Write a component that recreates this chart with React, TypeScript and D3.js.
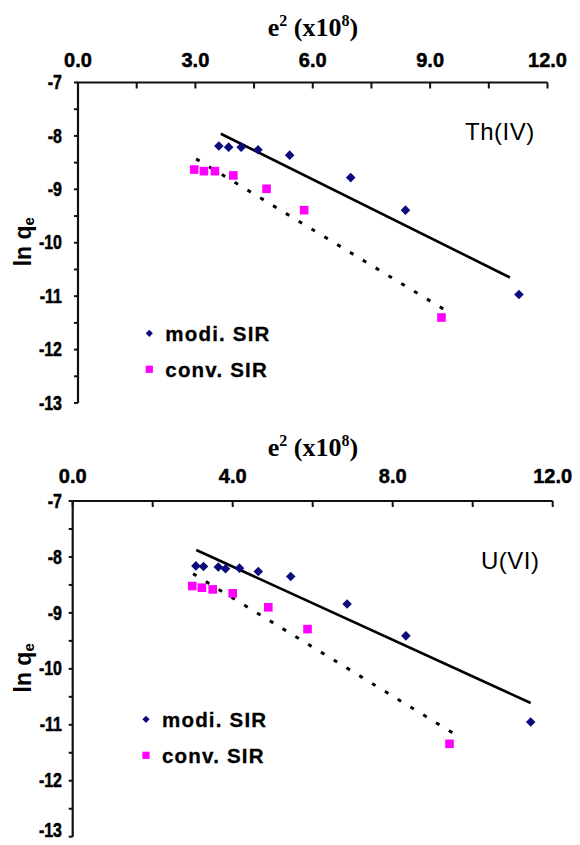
import React from 'react';
import * as d3 from 'd3';

// ---- data ----
// Th(IV) panel
const thModiX = [3.6, 3.85, 4.17, 4.6, 5.41, 6.97, 8.37, 11.27];
const thModiY = [-8.19, -8.21, -8.21, -8.26, -8.36, -8.78, -9.39, -10.97];
const thConvX = [2.97, 3.22, 3.5, 3.97, 4.82, 5.78, 9.29];
const thConvY = [-8.63, -8.66, -8.66, -8.74, -8.99, -9.39, -11.4];
const thModiFitX = [3.65, 11.04];
const thModiFitY = [-7.96, -10.65];
const thConvFitX = [3.02, 9.45];
const thConvFitY = [-8.43, -11.29];
const thXTicks = [0, 1.5, 3, 4.5, 6, 7.5, 9, 10.5, 12];
const thXLabels = [0, 3, 6, 9, 12];

// U(VI) panel
const uModiX = [3.08, 3.27, 3.64, 3.82, 4.17, 4.64, 5.45, 6.86, 8.33, 11.45];
const uModiY = [-8.16, -8.17, -8.18, -8.21, -8.2, -8.26, -8.35, -8.84, -9.41, -10.95];
const uConvX = [2.99, 3.23, 3.5, 4.0, 4.89, 5.87, 9.42];
const uConvY = [-8.52, -8.55, -8.58, -8.65, -8.9, -9.29, -11.34];
const uModiFitX = [3.09, 11.45];
const uModiFitY = [-7.875, -10.61];
const uConvFitX = [3.01, 9.65];
const uConvFitY = [-8.3, -11.21];
const uXTicks = [0, 2, 4, 6, 8, 10, 12];
const uXLabels = [0, 4, 8, 12];

const yTicks = [-7, -7.5, -8, -8.5, -9, -9.5, -10, -10.5, -11, -11.5, -12, -12.5, -13];
const yLabels = [-7, -8, -9, -10, -11, -12, -13];
const legendNames = ['modi. SIR', 'conv. SIR'];

const BLUE = '#0b0b7d';
const PINK = '#ff00ff';
const SANS = "'Liberation Sans', Arial, sans-serif";
const SERIF = "'Liberation Serif', 'Times New Roman', serif";

const zip = (xs: number[], ys: number[]) => xs.map((x, i) => [x, ys[i]] as [number, number]);

type PanelProps = {
  xRange: [number, number];
  yRange: [number, number];
  xTicks: number[];
  xLabels: number[];
  modi: [number, number][];
  conv: [number, number][];
  modiFit: [number, number][];
  convFit: [number, number][];
  species: string;
  speciesPos: [number, number];
  titleY: number;
  tickLabelY: number;
  yLabelRight: number;
  legendPos: [number, number];
};

const diamond = d3.symbol().type(d3.symbolSquare).size(46)();
const square = d3.symbol().type(d3.symbolSquare).size(74)();
const legDiamond = d3.symbol().type(d3.symbolSquare).size(26)();
const legSquare = d3.symbol().type(d3.symbolSquare).size(52)();

const Panel = (p: PanelProps) => {
  const x = d3.scaleLinear().domain([0, 12]).range(p.xRange);
  const y = d3.scaleLinear().domain([-7, -13]).range(p.yRange);
  const line = d3.line<[number, number]>().x(d => x(d[0])).y(d => y(d[1]));
  const [x0, x1] = p.xRange;
  const [y0, y1] = p.yRange;

  return (
    <g>
      {/* top title */}
      <text x={313} y={p.titleY} textAnchor="middle" fontFamily={SERIF} fontWeight="bold" fontSize={26}>
        e<tspan fontSize={16} dy={-10}>2</tspan>
        <tspan dy={10}> (x10</tspan>
        <tspan fontSize={16} dy={-10}>8</tspan>
        <tspan dy={10}>)</tspan>
      </text>

      {/* axes */}
      <path d={`M${x0},${y1}V${y0}H${x1}`} fill="none" stroke="#111" strokeWidth={2.2} />
      {p.xTicks.map(t => (
        <line key={t} x1={x(t)} x2={x(t)} y1={y0} y2={y0 + 6} stroke="#111" strokeWidth={2} />
      ))}
      {p.xLabels.map(t => (
        <text key={t} x={x(t)} y={p.tickLabelY} textAnchor="middle" fontFamily={SANS} fontWeight="bold"
          fontSize={20} stroke="#000" strokeWidth={0.5}>
          {t.toFixed(1)}
        </text>
      ))}
      {yTicks.map(t => (
        <line key={t} x1={x0 - 4} x2={x0} y1={y(t)} y2={y(t)} stroke="#111" strokeWidth={2} />
      ))}
      {yLabels.map(t => (
        <text key={t} transform={`translate(${p.yLabelRight},${Math.min(y(t), 830)}) scale(0.82,1)`} dy="0.34em"
          textAnchor="end" fontFamily={SANS} fontWeight="bold" fontSize={19.5} stroke="#000" strokeWidth={0.5}>
          {t}
        </text>
      ))}

      <text
        transform={`translate(31,${(y0 + y1) / 2 - 1}) rotate(-90)`}
        textAnchor="middle"
        fontFamily={SANS}
        fontWeight="bold"
        fontSize={23}
      >
        ln q<tspan fontSize={15} dy={3}>e</tspan>
      </text>

      {/* fitted lines */}
      <path d={line(p.modiFit) || ''} fill="none" stroke="#000" strokeWidth={2.6} />
      <path d={line(p.convFit) || ''} fill="none" stroke="#000" strokeWidth={3} strokeDasharray="4,11" />

      {/* points */}
      {p.modi.map((d, i) => (
        <path key={'m' + i} d={diamond || ''} transform={`translate(${x(d[0])},${y(d[1])}) rotate(45)`} fill={BLUE} />
      ))}
      {p.conv.map((d, i) => (
        <path key={'c' + i} d={square || ''} transform={`translate(${x(d[0])},${y(d[1])})`} fill={PINK} />
      ))}

      {/* species label */}
      <text x={p.speciesPos[0]} y={p.speciesPos[1]} fontFamily={SANS} fontSize={24} letterSpacing={0.5}>
        {p.species}
      </text>

      {/* legend */}
      <path d={legDiamond || ''} transform={`translate(${p.legendPos[0]},${p.legendPos[1]}) rotate(45)`} fill={BLUE} />
      <text x={p.legendPos[0] + 16} y={p.legendPos[1] + 7.5} fontFamily={SANS} fontWeight="bold" fontSize={20.5}
        letterSpacing={1.2} stroke="#000" strokeWidth={0.3}>
        {legendNames[0]}
      </text>
      <path d={legSquare || ''} transform={`translate(${p.legendPos[0]},${p.legendPos[1] + 36})`} fill={PINK} />
      <text x={p.legendPos[0] + 16} y={p.legendPos[1] + 44} fontFamily={SANS} fontWeight="bold" fontSize={20.5}
        letterSpacing={1.2} stroke="#000" strokeWidth={0.3}>
        {legendNames[1]}
      </text>
    </g>
  );
};

export default function App() {
  return (
    <div style={{ position: 'absolute', left: 0, top: 0 }}>
      <svg width={580} height={845} style={{ display: 'block', background: '#fff' }}>
        <Panel
          xRange={[78, 547.5]}
          yRange={[82.5, 403]}
          xTicks={thXTicks}
          xLabels={thXLabels}
          modi={zip(thModiX, thModiY)}
          conv={zip(thConvX, thConvY)}
          modiFit={zip(thModiFitX, thModiFitY)}
          convFit={zip(thConvFitX, thConvFitY)}
          species="Th(IV)"
          speciesPos={[465, 140]}
          titleY={36}
          tickLabelY={66.7}
          yLabelRight={62}
          legendPos={[149.3, 333.3]}
        />
        <Panel
          xRange={[72.7, 552.7]}
          yRange={[501, 836.7]}
          xTicks={uXTicks}
          xLabels={uXLabels}
          modi={zip(uModiX, uModiY)}
          conv={zip(uConvX, uConvY)}
          modiFit={zip(uModiFitX, uModiFitY)}
          convFit={zip(uConvFitX, uConvFitY)}
          species="U(VI)"
          speciesPos={[481, 569]}
          titleY={456}
          tickLabelY={483.3}
          yLabelRight={62}
          legendPos={[146, 719.3]}
        />
      </svg>
    </div>
  );
}
